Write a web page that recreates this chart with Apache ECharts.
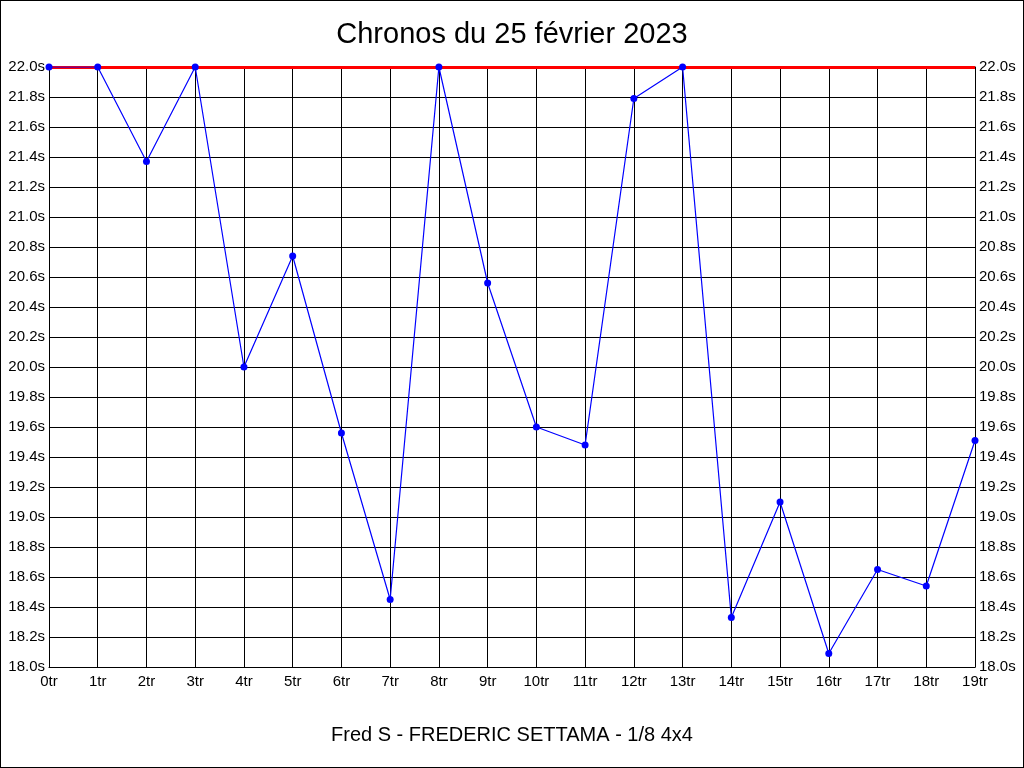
<!DOCTYPE html>
<html>
<head>
<meta charset="utf-8">
<script src="https://cdn.jsdelivr.net/npm/echarts@6/dist/echarts.min.js"></script>
<style>
  html, body { margin: 0; padding: 0; background: #fff; }
  #chart {
    width: 1024px;
    height: 768px;
    box-sizing: border-box;
    border: 1px solid #000;
  }
</style>
</head>
<body>
<div id="chart"></div>
<script>
const laps = ['0tr', '1tr', '2tr', '3tr', '4tr', '5tr', '6tr', '7tr', '8tr', '9tr',
  '10tr', '11tr', '12tr', '13tr', '14tr', '15tr', '16tr', '17tr', '18tr', '19tr']
const times = [22.0, 22.0, 21.37, 22.0, 20.0, 20.74, 19.56, 18.45, 22.0, 20.56,
  19.6, 19.48, 21.79, 22.0, 18.33, 19.1, 18.09, 18.65, 18.54, 19.51]
const refTime = 22.0
const yMin = 18.0
const yMax = 22.0
const yStep = 0.2

const chart = echarts.init(document.getElementById('chart'))

const yAxisCommon = {
  type: 'value',
  min: yMin,
  max: yMax,
  interval: yStep,
  axisLine: { show: true, lineStyle: { color: '#000', width: 1 } },
  axisTick: { show: false },
  splitLine: { show: true, lineStyle: { color: '#000', width: 1 } },
  axisLabel: {
    color: '#000',
    fontSize: 15,
    fontFamily: 'Liberation Sans',
    margin: 4,
    formatter: v => v.toFixed(1) + 's'
  }
}

const option = {
  backgroundColor: '#fff',
  animation: false,
  title: [
    {
      text: 'Chronos du 25 février 2023',
      left: 'center',
      top: 14,
      textStyle: { color: '#000', fontSize: 29, fontWeight: 'normal', fontFamily: 'Liberation Sans' }
    },
    {
      text: 'Fred S - FREDERIC SETTAMA - 1/8 4x4',
      left: 'center',
      top: 719,
      textStyle: { color: '#000', fontSize: 20, fontWeight: 'normal', fontFamily: 'Liberation Sans' }
    }
  ],
  grid: {
    left: 48,
    right: 48,
    top: 66,
    bottom: 100
  },
  xAxis: {
    type: 'category',
    data: laps,
    boundaryGap: false,
    axisLine: { show: true, lineStyle: { color: '#000', width: 1 } },
    axisTick: { show: false },
    splitLine: { show: true, lineStyle: { color: '#000', width: 1 } },
    axisLabel: {
      color: '#000',
      fontSize: 15,
      fontFamily: 'Liberation Sans',
      margin: 7,
      interval: 0
    }
  },
  yAxis: [
    Object.assign({}, yAxisCommon, { position: 'left' }),
    Object.assign({}, yAxisCommon, { position: 'right', splitLine: { show: false } })
  ],
  series: [
    {
      type: 'line',
      data: times,
      symbol: 'circle',
      symbolSize: 7,
      lineStyle: { color: '#0000ff', width: 1.2 },
      itemStyle: { color: '#0000ff' },
      z: 3,
      markLine: {
        silent: true,
        symbol: 'none',
        label: { show: false },
        lineStyle: { color: '#ff0000', width: 3, type: 'solid' },
        data: [{ yAxis: refTime }],
        z: 2
      }
    }
  ]
}

chart.setOption(option)
</script>
</body>
</html>
